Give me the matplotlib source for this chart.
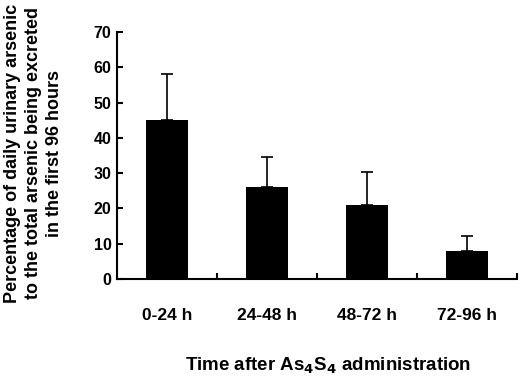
import matplotlib.pyplot as plt
import numpy as np

periods = ['0-24 h', '24-48 h', '48-72 h', '72-96 h']
percent = [45, 26, 21, 8]
sd = [13, 8.5, 9.2, 4.2]

plt.rcParams['font.family'] = ['Liberation Sans', 'DejaVu Sans']
plt.rcParams['font.weight'] = 'bold'

fig = plt.figure(figsize=(5.2, 3.78), dpi=100)
ax = fig.add_axes([0.225, 0.262, 0.769, 0.653])

x = np.arange(len(periods))
ax.bar(x, percent, width=0.42, color='black',
       yerr=[np.zeros(len(sd)), sd], capsize=4,
       error_kw=dict(elinewidth=1.2, capthick=1.2, ecolor='black'))

ax.set_xlim(-0.5, 3.5)
ax.set_ylim(0, 70)
ax.set_yticks(range(0, 71, 10))
ax.set_xticks(x)
ax.set_xticklabels(periods, fontsize=12.5, fontweight='bold')
ax.set_yticklabels([str(v) for v in range(0, 71, 10)], fontsize=11.5, fontweight='bold')
ax.set_xticks(np.arange(0.5, 3.6, 1), minor=True)

for s in ['top', 'right']:
    ax.spines[s].set_visible(False)
for s in ['left', 'bottom']:
    ax.spines[s].set_linewidth(1.5)

ax.tick_params(axis='y', direction='in', length=4, width=1.5, pad=4)
ax.tick_params(axis='x', which='major', length=0, pad=21)
ax.tick_params(axis='x', which='minor', direction='in', length=4, width=1.5)

ax.set_ylabel('Percentage of daily urinary arsenic\nto the total arsenic being excreted\nin the first 96 hours',
              fontsize=13, fontweight='bold', linespacing=1.3)
ax.yaxis.set_label_coords(-0.135, 0.51)
ax.set_xlabel('Time after As$_\\mathbf{4}$S$_\\mathbf{4}$ administration',
              fontsize=13.5, fontweight='bold')
ax.xaxis.set_label_coords(0.529, -0.31)

fig.savefig('out.png', dpi=100)
